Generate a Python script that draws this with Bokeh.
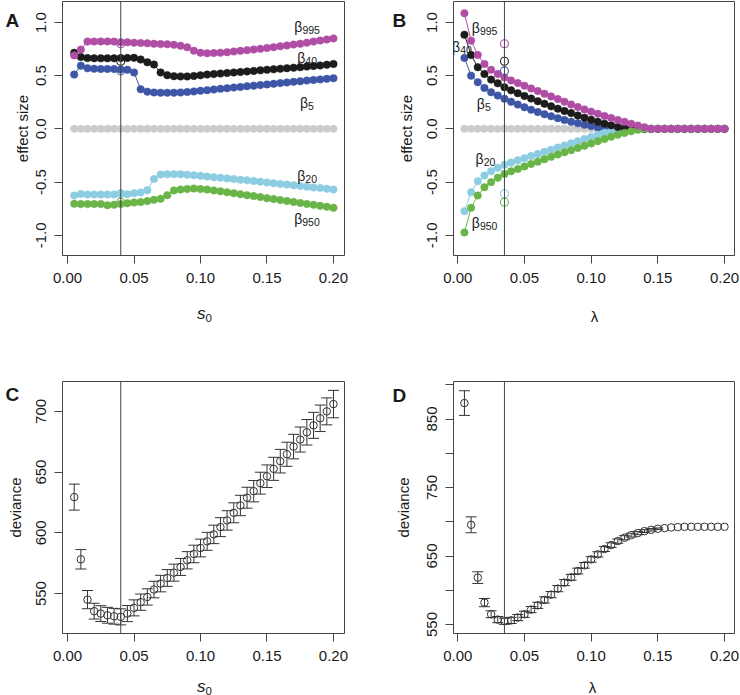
import math
from bokeh.plotting import figure
from bokeh.models import (Span, Label, Whisker, ColumnDataSource, TeeHead, FixedTicker,
                          PrintfTickFormatter, Range1d)
from bokeh.layouts import column, row
from bokeh.embed import file_html
from bokeh.resources import INLINE
from bokeh.core.properties import value

# ---------------- data ----------------
s0 = [0.005, 0.010, 0.015, 0.020, 0.025, 0.030, 0.035, 0.040, 0.045, 0.050,
      0.055, 0.060, 0.065, 0.070, 0.075, 0.080, 0.085, 0.090, 0.095, 0.100,
      0.105, 0.110, 0.115, 0.120, 0.125, 0.130, 0.135, 0.140, 0.145, 0.150,
      0.155, 0.160, 0.165, 0.170, 0.175, 0.180, 0.185, 0.190, 0.195, 0.200]
lam = [0.005, 0.010, 0.015, 0.020, 0.025, 0.030, 0.035, 0.040, 0.045, 0.050,
       0.055, 0.060, 0.065, 0.070, 0.075, 0.080, 0.085, 0.090, 0.095, 0.100,
       0.105, 0.110, 0.115, 0.120, 0.125, 0.130, 0.135, 0.140, 0.145, 0.150,
       0.155, 0.160, 0.165, 0.170, 0.175, 0.180, 0.185, 0.190, 0.195, 0.200]
s0_best = 0.04
lam_best = 0.035

# panel A: effect sizes vs s0
A_b995 = [0.69, 0.745, 0.82, 0.82, 0.822, 0.822, 0.82, 0.815, 0.813, 0.81,
          0.807, 0.805, 0.80, 0.797, 0.795, 0.79, 0.78, 0.767, 0.735, 0.716,
          0.71, 0.712, 0.716, 0.72, 0.727, 0.733, 0.74, 0.746, 0.752, 0.76,
          0.768, 0.776, 0.784, 0.792, 0.80, 0.81, 0.82, 0.83, 0.84, 0.85]
A_b40 = [0.715, 0.675, 0.665, 0.663, 0.663, 0.663, 0.663, 0.665, 0.667, 0.668,
         0.652, 0.625, 0.605, 0.53, 0.505, 0.495, 0.493, 0.493, 0.497, 0.503,
         0.51, 0.515, 0.52, 0.525, 0.53, 0.535, 0.54, 0.545, 0.55, 0.555,
         0.56, 0.565, 0.57, 0.575, 0.58, 0.585, 0.59, 0.596, 0.603, 0.61]
A_b5 = [0.51, 0.594, 0.569, 0.565, 0.563, 0.563, 0.562, 0.557, 0.555, 0.53,
        0.372, 0.35, 0.342, 0.34, 0.34, 0.34, 0.342, 0.346, 0.352, 0.358,
        0.364, 0.37, 0.376, 0.382, 0.388, 0.394, 0.40, 0.406, 0.412, 0.418,
        0.424, 0.43, 0.436, 0.442, 0.448, 0.454, 0.46, 0.465, 0.47, 0.476]
A_b0 = [0.0, 0.0, 0.0, 0.0, 0.0, 0.0, 0.0, 0.0, 0.0, 0.0,
        0.0, 0.0, 0.0, 0.0, 0.0, 0.0, 0.0, 0.0, 0.0, 0.0,
        0.0, 0.0, 0.0, 0.0, 0.0, 0.0, 0.0, 0.0, 0.0, 0.0,
        0.0, 0.0, 0.0, 0.0, 0.0, 0.0, 0.0, 0.0, 0.0, 0.0]
A_b20 = [-0.626, -0.611, -0.617, -0.617, -0.617, -0.617, -0.617, -0.605, -0.614, -0.604,
         -0.598, -0.576, -0.47, -0.429, -0.426, -0.426, -0.426, -0.43, -0.435, -0.441,
         -0.448, -0.454, -0.46, -0.466, -0.472, -0.478, -0.484, -0.49, -0.497, -0.504,
         -0.51, -0.517, -0.523, -0.53, -0.537, -0.543, -0.55, -0.556, -0.563, -0.57]
A_b950 = [-0.704, -0.707, -0.707, -0.707, -0.707, -0.717, -0.713, -0.707, -0.698, -0.692,
          -0.688, -0.679, -0.667, -0.657, -0.623, -0.579, -0.57, -0.565, -0.561, -0.565,
          -0.57, -0.578, -0.587, -0.596, -0.605, -0.614, -0.623, -0.632, -0.641, -0.651,
          -0.66, -0.669, -0.678, -0.687, -0.696, -0.705, -0.714, -0.723, -0.732, -0.742]

# panel B: effect sizes vs lambda
B_b995 = [1.086, 0.829, 0.695, 0.61, 0.555, 0.516, 0.483, 0.455, 0.43, 0.405,
          0.38, 0.355, 0.33, 0.305, 0.28, 0.255, 0.23, 0.205, 0.183, 0.162,
          0.142, 0.122, 0.103, 0.084, 0.066, 0.048, 0.031, 0.015, 0.0, 0.0,
          0.0, 0.0, 0.0, 0.0, 0.0, 0.0, 0.0, 0.0, 0.0, 0.0]
B_b40 = [0.885, 0.695, 0.579, 0.516, 0.463, 0.428, 0.391, 0.362, 0.335, 0.31,
         0.285, 0.26, 0.236, 0.212, 0.19, 0.168, 0.148, 0.126, 0.105, 0.085,
         0.066, 0.049, 0.033, 0.018, 0.005, 0.0, 0.0, 0.0, 0.0, 0.0,
         0.0, 0.0, 0.0, 0.0, 0.0, 0.0, 0.0, 0.0, 0.0, 0.0]
B_b5 = [0.667, 0.50, 0.438, 0.385, 0.344, 0.313, 0.282, 0.255, 0.228, 0.203,
        0.18, 0.158, 0.138, 0.119, 0.101, 0.084, 0.068, 0.053, 0.039, 0.026,
        0.014, 0.004, 0.0, 0.0, 0.0, 0.0, 0.0, 0.0, 0.0, 0.0,
        0.0, 0.0, 0.0, 0.0, 0.0, 0.0, 0.0, 0.0, 0.0, 0.0]
B_b0 = [0.0, 0.0, 0.0, 0.0, 0.0, 0.0, 0.0, 0.0, 0.0, 0.0,
        0.0, 0.0, 0.0, 0.0, 0.0, 0.0, 0.0, 0.0, 0.0, 0.0,
        0.0, 0.0, 0.0, 0.0, 0.0, 0.0, 0.0, 0.0, 0.0, 0.0,
        0.0, 0.0, 0.0, 0.0, 0.0, 0.0, 0.0, 0.0, 0.0, 0.0]
B_b20 = [-0.773, -0.595, -0.492, -0.438, -0.398, -0.366, -0.338, -0.316, -0.296, -0.276,
         -0.256, -0.236, -0.216, -0.196, -0.176, -0.156, -0.136, -0.116, -0.096, -0.076,
         -0.056, -0.037, -0.019, 0.0, 0.0, 0.0, 0.0, 0.0, 0.0, 0.0,
         0.0, 0.0, 0.0, 0.0, 0.0, 0.0, 0.0, 0.0, 0.0, 0.0]
B_b950 = [-0.974, -0.742, -0.626, -0.548, -0.501, -0.46, -0.423, -0.398, -0.376, -0.353,
          -0.33, -0.308, -0.285, -0.263, -0.241, -0.22, -0.20, -0.179, -0.158, -0.137,
          -0.116, -0.095, -0.075, -0.056, -0.038, -0.022, -0.008, 0.0, 0.0, 0.0,
          0.0, 0.0, 0.0, 0.0, 0.0, 0.0, 0.0, 0.0, 0.0, 0.0]

# reference (open circle) effect sizes
ref_names = ["b995", "b40", "b5", "b20", "b950"]
ref_vals = [0.80, 0.635, 0.545, -0.61, -0.69]

# panel C: deviance vs s0
C_dev = [629.4, 578.2, 545.0, 535.5, 533.5, 532.1, 531.3, 530.8, 533.5, 538.2,
         542.9, 547.2, 553.3, 558.2, 562.8, 567.2, 571.9, 577.4, 582.6, 587.5,
         593.0, 598.7, 604.7, 610.2, 616.5, 622.5, 628.9, 634.3, 640.9, 646.6,
         652.7, 659.0, 664.7, 671.0, 676.8, 682.8, 688.5, 694.3, 700.0, 706.0]
C_se = [10.7, 8.0, 7.5, 6.5, 6.5, 6.5, 6.5, 6.6, 6.6, 6.6,
        6.7, 6.7, 6.8, 6.8, 6.9, 7.0, 7.0, 7.1, 7.2, 7.3,
        7.4, 7.6, 7.8, 8.0, 8.2, 8.4, 8.6, 8.8, 9.0, 9.3,
        9.5, 9.7, 9.9, 10.1, 10.3, 10.5, 10.7, 10.9, 11.1, 11.3]

# panel D: deviance vs lambda
D_dev = [873.3, 695.6, 618.5, 582.0, 565.0, 557.2, 554.8, 556.0, 560.2, 565.0,
         571.8, 578.0, 585.9, 593.7, 602.4, 611.2, 618.9, 628.1, 636.4, 645.1,
         652.4, 660.2, 666.0, 671.8, 676.7, 680.5, 683.5, 686.4, 688.3, 689.8,
         690.7, 691.7, 692.2, 692.7, 692.7, 692.7, 692.7, 692.7, 692.7, 692.7]
D_se = [18.0, 11.6, 8.5, 6.0, 5.0, 4.5, 4.5, 4.5, 4.5, 4.5,
        4.5, 4.5, 4.5, 4.5, 4.5, 4.4, 4.3, 4.2, 4.1, 4.0,
        3.8, 3.6, 3.4, 3.2, 3.0, 2.7, 2.4, 2.1, 1.8, 1.2,
        0.0, 0.0, 0.0, 0.0, 0.0, 0.0, 0.0, 0.0, 0.0, 0.0]

x_ticks = [0.0, 0.05, 0.10, 0.15, 0.20]
eff_ticks = [-1.0, -0.5, 0.0, 0.5, 1.0]
C_ticks = [550, 600, 650, 700]
D_ticks = [550, 600, 650, 700, 750, 800, 850, 900]
D_labelled = [550, 650, 750, 850]

# ---------------- style ----------------
FONT = "Liberation Sans"
INK = "#333333"
TXT = "#1a1a1a"
COL = {"b0": "#CCCCCC", "b5": "#3E56A6", "b20": "#8DCDE2", "b40": "#1c1c1c",
       "b950": "#6AB548", "b995": "#B04EA6"}

# page geometry: figure (left, top, w, h), frame (left, right, top, bottom)
GEOM = {
    "A": dict(fig=(0, 0, 370, 340), frame=(62, 344, 1, 255), xr=(-0.0038, 0.2083), yr=(-1.19, 1.197)),
    "B": dict(fig=(370, 0, 370, 340), frame=(453, 734, 1, 255), xr=(-0.0032, 0.2075), yr=(-1.19, 1.197)),
    "C": dict(fig=(0, 340, 370, 355), frame=(62, 344, 381, 633), xr=(-0.0038, 0.2083), yr=(517.1, 724.6)),
    "D": dict(fig=(370, 340, 370, 355), frame=(453, 734, 381, 633), xr=(-0.0032, 0.2075), yr=(536.9, 904.8)),
}


def to_data(g, px, py):
    fl, fr, ft, fb = g["frame"]
    x0, x1 = g["xr"]
    y0, y1 = g["yr"]
    return (x0 + (px - fl) / (fr - fl) * (x1 - x0), y1 - (py - ft) / (fb - ft) * (y1 - y0))


def make_fig(key):
    g = GEOM[key]
    fx, fy, w, h = g["fig"]
    fl, fr, ft, fb = g["frame"]
    p = figure(width=w, height=h, x_range=Range1d(*g["xr"]), y_range=Range1d(*g["yr"]),
               output_backend="svg", toolbar_location=None,
               min_border_left=fl - fx, min_border_right=fx + w - fr,
               min_border_top=ft - fy, min_border_bottom=fy + h - fb)
    p.grid.visible = False
    p.outline_line_color = "#444444"
    p.outline_line_width = 1
    p.background_fill_color = "white"
    p.border_fill_color = "white"
    for ax in (p.xaxis[0], p.yaxis[0]):
        ax.axis_line_color = None
        ax.major_tick_out = 8
        ax.major_tick_in = 0
        ax.major_tick_line_color = "#444444"
        ax.minor_tick_line_color = None
        ax.major_label_text_font = FONT
        ax.major_label_text_font_size = "15px"
        ax.major_label_text_color = TXT
    p.xaxis[0].ticker = FixedTicker(ticks=x_ticks)
    p.xaxis[0].formatter = PrintfTickFormatter(format="%.2f")
    p.xaxis[0].major_label_standoff = 9
    p.yaxis[0].major_label_orientation = "vertical"
    p.yaxis[0].major_label_standoff = 8
    return p


def add_label(p, key, px, py, text, size="15px", style="normal", angle=0.0,
              align="left", baseline="alphabetic", side="left"):
    x, y = to_data(GEOM[key], px, py)
    p.add_layout(Label(x=x, y=y, text=text, text_font=FONT, text_font_size=size,
                       text_font_style=style, text_color=TXT, angle=angle,
                       text_align=align, text_baseline=baseline), side)


def beta_labels(p, xs, ys, subs):
    bw = 8.0
    dw = 5.85
    offs = []
    for s in subs:
        w = bw + dw * len(s)
        offs.append(-w / 2 + bw)
    src = ColumnDataSource(dict(x=xs, y=ys, sub=subs, off=offs, beta=["β"] * len(xs)))
    p.text(x="x", y="y", text="beta", source=src, x_offset="off", y_offset=0,
           text_align="right", text_baseline="alphabetic", text_font=value(FONT),
           text_font_size="14px", text_color=TXT)
    p.text(x="x", y="y", text="sub", source=src, x_offset="off", y_offset=3,
           text_align="left", text_baseline="alphabetic", text_font=value(FONT),
           text_font_size="10.5px", text_color=TXT)


def effect_panel(key, xs, series, best):
    p = make_fig(key)
    p.yaxis[0].ticker = FixedTicker(ticks=eff_ticks)
    p.yaxis[0].formatter = PrintfTickFormatter(format="%.1f")
    for name, ys in series:
        c = COL[name]
        p.line(xs, ys, line_color=c, line_width=1)
        p.scatter(xs, ys, size=7.5, fill_color=c, line_color=c, line_width=0.5)
    p.scatter([best] * len(ref_vals), ref_vals, size=8, fill_color=None,
              line_color=[COL[n] for n in ref_names], line_width=1.1)
    p.add_layout(Span(location=best, dimension="height", line_color="#444444", line_width=1))
    return p


def deviance_panel(key, xs, dev, se, best, ticks, labelled):
    p = make_fig(key)
    p.yaxis[0].ticker = FixedTicker(ticks=ticks)
    p.yaxis[0].major_label_overrides = {t: (str(t) if t in labelled else "") for t in ticks}
    p.scatter(xs, dev, size=7.5, fill_color=None, line_color=INK, line_width=1)
    bx = [x for x, e in zip(xs, se) if e > 0]
    lo = [d - e for d, e in zip(dev, se) if e > 0]
    hi = [d + e for d, e in zip(dev, se) if e > 0]
    src = ColumnDataSource(dict(base=bx, lower=lo, upper=hi))
    p.add_layout(Whisker(source=src, base="base", lower="lower", upper="upper",
                         line_color=INK, line_width=1,
                         upper_head=TeeHead(size=11, line_color=INK, line_width=1),
                         lower_head=TeeHead(size=11, line_color=INK, line_width=1)))
    p.add_layout(Span(location=best, dimension="height", line_color="#444444", line_width=1))
    return p


# ---------------- panel A ----------------
pA = effect_panel("A", s0, [("b0", A_b0), ("b5", A_b5), ("b20", A_b20), ("b40", A_b40),
                            ("b950", A_b950), ("b995", A_b995)], s0_best)
lab_A = [(306.7, 26.3, "995"), (306.7, 57.0, "40"), (306.5, 102.0, "5"),
         (306.7, 175.5, "20"), (306.5, 218.5, "950")]
beta_labels(pA, [to_data(GEOM["A"], a, b)[0] for a, b, _ in lab_A],
            [to_data(GEOM["A"], a, b)[1] for a, b, _ in lab_A], [s for _, _, s in lab_A])

# ---------------- panel B ----------------
pB = effect_panel("B", lam, [("b0", B_b0), ("b5", B_b5), ("b20", B_b20), ("b40", B_b40),
                             ("b950", B_b950), ("b995", B_b995)], lam_best)
lab_B = [(484.2, 27.0, "995"), (461.5, 46.5, "40"), (483.3, 103.0, "5"),
         (485.0, 158.7, "20"), (484.2, 222.0, "950")]
beta_labels(pB, [to_data(GEOM["B"], a, b)[0] for a, b, _ in lab_B],
            [to_data(GEOM["B"], a, b)[1] for a, b, _ in lab_B], [s for _, _, s in lab_B])

# ---------------- panels C, D ----------------
pC = deviance_panel("C", s0, C_dev, C_se, s0_best, C_ticks, C_ticks)
pD = deviance_panel("D", lam, D_dev, D_se, lam_best, D_ticks, D_labelled)

# ---------------- titles and panel letters ----------------
for key, p, ytitle, ybase, letter_x, letter_y in [
        ("A", pA, "effect size", 22, 5, 20),
        ("B", pB, "effect size", 406, 392, 20),
        ("C", pC, "deviance", 15, 5, 394),
        ("D", pD, "deviance", 403, 392, 395)]:
    fl, fr, ft, fb = GEOM[key]["frame"]
    add_label(p, key, ybase, (ft + fb) / 2, ytitle, angle=math.pi / 2, align="center")
    add_label(p, key, letter_x, letter_y, key, size="19px", style="bold")

# x titles
add_label(pA, "A", 205, 313, "s", size="17px", style="italic", align="right", side="below")
add_label(pA, "A", 205, 317, "0", size="11.5px", side="below")
add_label(pB, "B", 594, 316, "λ", size="15px", align="center", side="below")
add_label(pC, "C", 205, 686, "s", size="17px", style="italic", align="right", side="below")
add_label(pC, "C", 205, 690, "0", size="11.5px", side="below")
add_label(pD, "D", 592, 687, "λ", size="15px", align="center", side="below")

layout = column(row(pA, pB), row(pC, pD))
open("out.html", "w").write(file_html(layout, INLINE))
